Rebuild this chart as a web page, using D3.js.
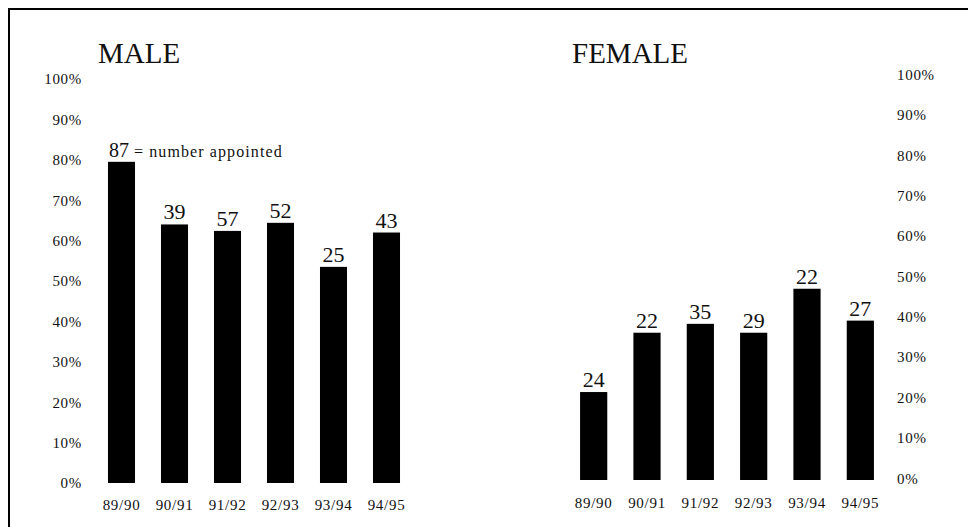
<!DOCTYPE html>
<html>
<head>
<meta charset="utf-8">
<script src="https://cdn.jsdelivr.net/npm/d3@7"></script>
<style>
  html, body { margin: 0; padding: 0; background: #fff; }
  svg { display: block; }
  text { font-family: "Liberation Serif", "Times New Roman", serif; fill: #111; }
</style>
</head>
<body>
<svg id="chart" width="968" height="527"></svg>
<script>
// Academic years shown on both panels
const years = ["89/90", "90/91", "91/92", "92/93", "93/94", "94/95"];

// Share of appointments (%) by sex
const malePct   = [79.5, 64, 62.4, 64.4, 53.5, 62];
const femalePct = [21.8, 36.5, 38.7, 36.5, 47.4, 39.5];

// Number appointed, printed above each bar
const maleCount   = [87, 39, 57, 52, 25, 43];
const femaleCount = [24, 22, 35, 29, 22, 27];

// Percentage axis ticks
const pctTicks = [0, 10, 20, 30, 40, 50, 60, 70, 80, 90, 100];

const svg = d3.select("#chart");

// Outer frame: left and top rules only
svg.append("path")
  .attr("d", "M9,527 V9 H968")
  .attr("fill", "none")
  .attr("stroke", "#000")
  .attr("stroke-width", 2);

function panel(opts) {
  const g = svg.append("g");

  const x = d3.scaleBand()
    .domain(years)
    .range(opts.xRange)
    .paddingInner(0.49)
    .paddingOuter(0.245);

  const y = d3.scaleLinear()
    .domain([0, 100])
    .range(opts.yRange);

  // Title
  g.append("text")
    .attr("x", opts.titleX)
    .attr("y", 63)
    .attr("font-size", 29)
    .text(opts.title);

  // Percentage axis
  const yAxis = (opts.side === "left" ? d3.axisLeft(y) : d3.axisRight(y))
    .tickValues(pctTicks)
    .tickSize(0)
    .tickPadding(0)
    .tickFormat(d => d + "%");
  const ya = g.append("g")
    .attr("transform", `translate(${opts.axisX},0)`)
    .call(yAxis);
  ya.select(".domain").remove();
  ya.selectAll("text")
    .attr("font-family", "Liberation Serif, serif")
    .attr("font-size", 15)
    .attr("letter-spacing", 0.7)
    .attr("fill", "#111")
    .attr("dy", opts.labelDy);

  // Year axis
  const xAxis = d3.axisBottom(x).tickSize(0).tickPadding(0);
  const xa = g.append("g")
    .attr("transform", `translate(0,${opts.xAxisY})`)
    .call(xAxis);
  xa.select(".domain").remove();
  xa.selectAll("text")
    .attr("font-family", "Liberation Serif, serif")
    .attr("font-size", 15)
    .attr("letter-spacing", 0.7)
    .attr("fill", "#111");

  // Bars
  g.selectAll("rect.bar")
    .data(opts.values)
    .join("rect")
    .attr("class", "bar")
    .attr("x", (d, i) => x(years[i]))
    .attr("width", x.bandwidth())
    .attr("y", d => y(d))
    .attr("height", d => y(0) - y(d))
    .attr("fill", "#000");

  // Counts above bars
  g.selectAll("text.count")
    .data(opts.counts)
    .join("text")
    .attr("class", "count")
    .attr("x", (d, i) => opts.keyFirst && i === 0 ? x(years[i]) + 1 : x(years[i]) + x.bandwidth() / 2)
    .attr("y", (d, i) => y(opts.values[i]) - 5)
    .attr("text-anchor", (d, i) => opts.keyFirst && i === 0 ? "start" : "middle")
    .attr("font-size", (d, i) => opts.keyFirst && i === 0 ? 20 : 22)
    .text(d => d);

  if (opts.keyFirst) {
    g.append("text")
      .attr("x", x(years[0]) + 26)
      .attr("y", y(opts.values[0]) - 5)
      .attr("font-size", 16)
      .attr("letter-spacing", 1.1)
      .text("= number appointed");
  }
}

panel({
  title: "MALE",
  titleX: 98,
  side: "left",
  axisX: 82,
  labelDy: "0.32em",
  xRange: [95, 413],
  yRange: [483, 79],
  xAxisY: 499,
  values: malePct,
  counts: maleCount,
  keyFirst: true
});

panel({
  title: "FEMALE",
  titleX: 572,
  side: "right",
  axisX: 897,
  labelDy: "0.2em",
  xRange: [567, 887],
  yRange: [480, 76.5],
  xAxisY: 497,
  values: femalePct,
  counts: femaleCount,
  keyFirst: false
});
</script>
</body>
</html>
